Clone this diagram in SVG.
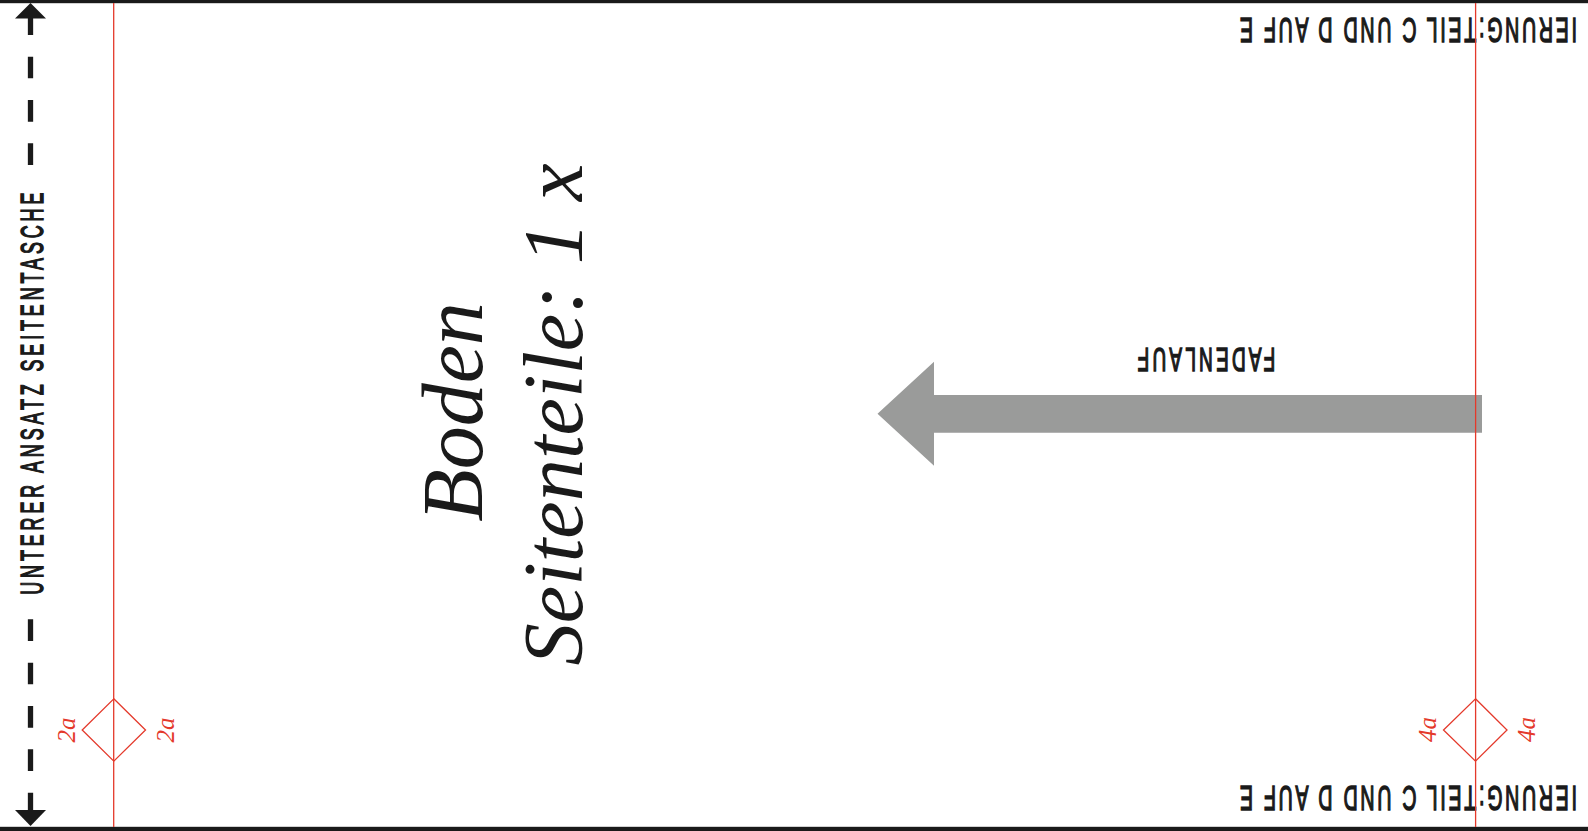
<svg xmlns="http://www.w3.org/2000/svg" width="1588" height="831" viewBox="0 0 1588 831">
  <defs>
    <style>
      .border { fill: #1a1a1a; }
      .cut { stroke: #e4392b; stroke-width: 1.3; fill: none; }
      .dash { stroke: #1a1a1a; stroke-width: 5.3; stroke-dasharray: 21.67 21.67; fill: none; }
      .ahead { fill: #1a1a1a; }
      .cond { font-family: "Liberation Sans", Arial, sans-serif; fill: #1a1a1a; stroke: #1a1a1a; stroke-width: 1.25; vector-effect: non-scaling-stroke; text-anchor: middle; }
      .title { font-family: "Liberation Serif", "Times New Roman", serif; font-style: italic; fill: #1a1a1a; text-anchor: middle; }
      .mark { font-family: "Liberation Serif", "Times New Roman", serif; font-style: italic; fill: #e4392b; font-size: 25px; text-anchor: middle; }
    </style>
  </defs>
  <rect width="1588" height="831" fill="#ffffff"/>

  <g id="borders">
    <rect class="border" x="0" y="0" width="1588" height="3.2"/>
    <rect class="border" x="0" y="826.8" width="1588" height="4.2"/>
  </g>

  <g id="grainline">
    <polygon fill="#9a9b9a" points="877.5,413.7 934,361.7 934,395 1482,395 1482,432.7 934,432.7 934,465.7"/>
    <text class="cond" x="0" y="0" font-size="34" textLength="246" lengthAdjust="spacing" transform="translate(1206.5 348.3) rotate(180) scale(0.56 1)">FADENLAUF</text>
  </g>

  <g id="fold-measure">
    <g id="connectors">
      <line class="dash" x1="30.5" y1="13.3" x2="30.5" y2="165"/>
      <line class="dash" x1="30.5" y1="619.3" x2="30.5" y2="814.3"/>
    </g>
    <polygon class="ahead" points="30.5,3 46,18.5 15,18.5"/>
    <polygon class="ahead" points="30.5,826 46,810 15,810"/>
    <text class="cond" x="0" y="0" font-size="32" textLength="718" lengthAdjust="spacing" transform="translate(43.3 393.7) rotate(-90) scale(0.56 1)">UNTERER ANSATZ SEITENTASCHE</text>
  </g>

  <g id="title">
    <text class="title" x="482" y="412" font-size="86" transform="rotate(-90 482 412)">Boden</text>
    <text class="title" x="582" y="414.5" font-size="84.5" transform="rotate(-90 582 414.5)">Seitenteile: 1 x</text>
  </g>

  <g id="note-top">
    <text class="cond" x="0" y="0" font-size="35" textLength="602" lengthAdjust="spacing" transform="translate(1408.5 18.3) rotate(180) scale(0.56 1)">IERUNG:TEIL C UND D AUF E</text>
  </g>
  <g id="note-bottom">
    <text class="cond" x="0" y="0" font-size="35" textLength="602" lengthAdjust="spacing" transform="translate(1408.5 786) rotate(180) scale(0.56 1)">IERUNG:TEIL C UND D AUF E</text>
  </g>

  <g id="notch-left">
    <polygon class="cut" points="113.8,698.8 145.5,730 113.8,761.2 82.2,730"/>
    <text class="mark" x="75" y="730" transform="rotate(-90 75 730)">2a</text>
    <text class="mark" x="174" y="730" transform="rotate(-90 174 730)">2a</text>
  </g>

  <g id="notch-right">
    <polygon class="cut" points="1475.5,698.8 1507,730 1475.5,761.2 1443.5,730"/>
    <text class="mark" x="1436" y="729.5" transform="rotate(-90 1436 729.5)">4a</text>
    <text class="mark" x="1535" y="729.5" transform="rotate(-90 1535 729.5)">4a</text>
  </g>

  <g id="cut-lines">
    <line class="cut" x1="113.7" y1="3" x2="113.7" y2="827"/>
    <line class="cut" x1="1475.6" y1="3" x2="1475.6" y2="827"/>
  </g>
</svg>
